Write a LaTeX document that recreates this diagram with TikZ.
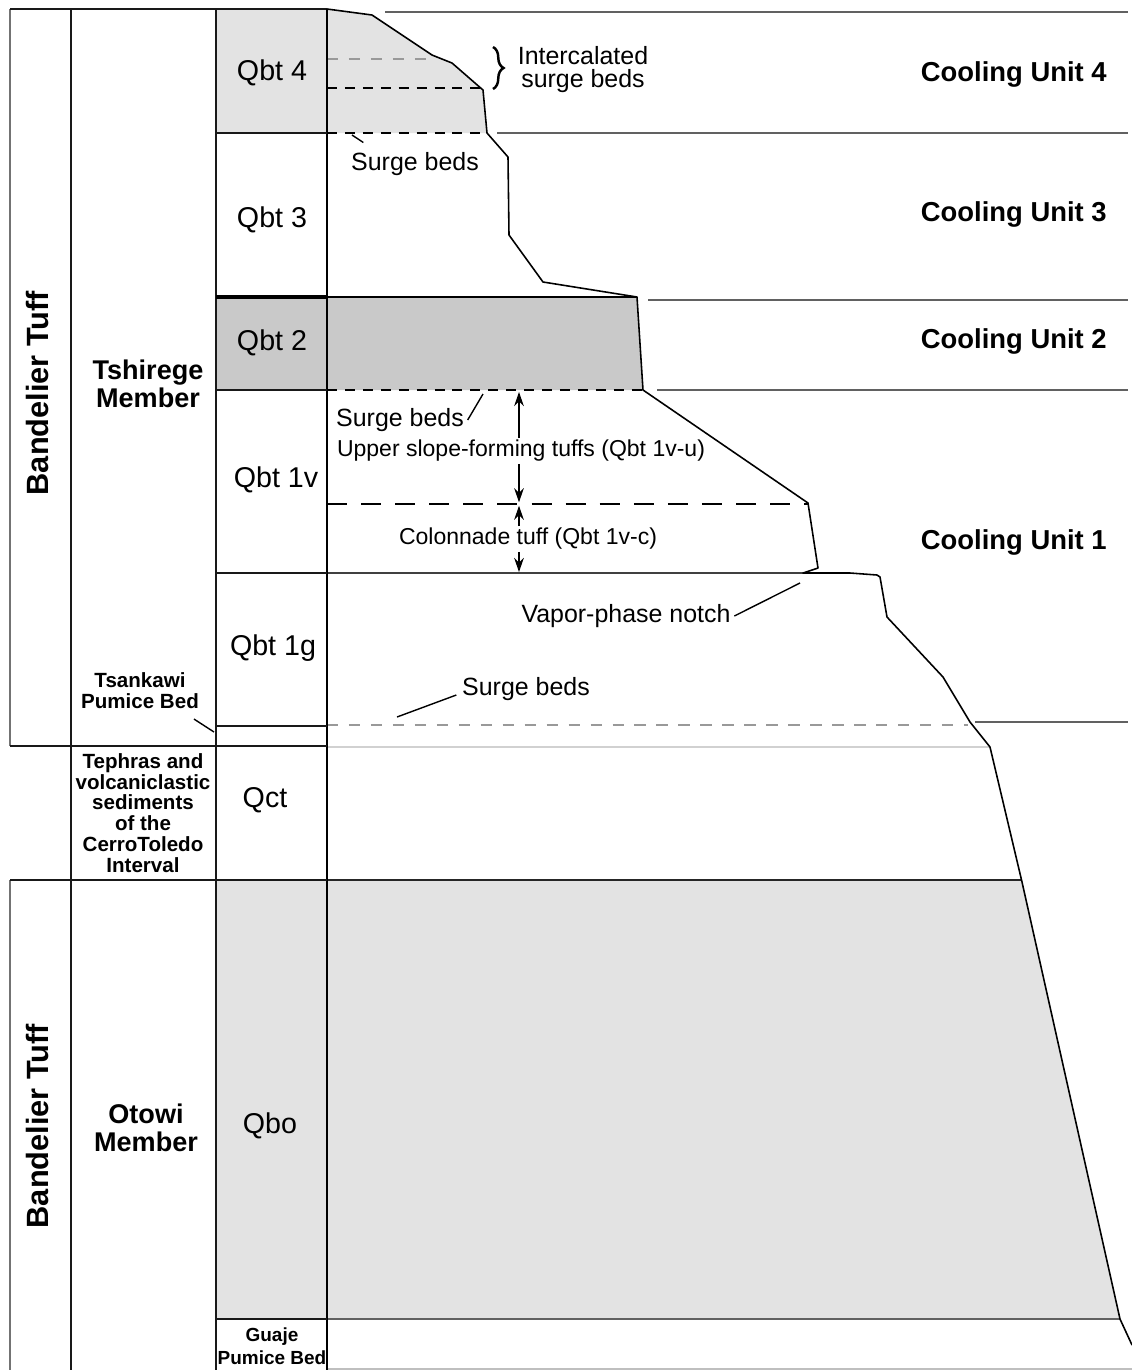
\documentclass[tikz,border=0pt]{standalone}
\usepackage{fontspec}
\setmainfont{Liberation Sans}
\usetikzlibrary{arrows.meta, calc, positioning, decorations.pathreplacing}

\begin{document}
\begin{tikzpicture}[x=0.02cm, y=-0.02cm]
\tikzstyle{unit}=[font=\fontsize{16.3}{18}\selectfont, inner sep=1pt]
\tikzstyle{cooling}=[font=\fontsize{15.6}{18}\selectfont\bfseries, anchor=east, inner sep=0pt]
\tikzstyle{member}=[font=\fontsize{15.4}{15.9}\selectfont\bfseries, align=center]
\tikzstyle{tuff}=[font=\fontsize{17.5}{20}\selectfont\bfseries, rotate=90]
\tikzstyle{note}=[font=\fontsize{14.2}{13.1}\selectfont, align=center, inner sep=2pt]
\tikzstyle{small}=[font=\fontsize{13.1}{15}\selectfont, inner sep=1pt]
\tikzstyle{bed}=[font=\fontsize{11.7}{11.8}\selectfont\bfseries, align=center, inner sep=1pt]
\tikzstyle{frame}=[line width=1.1pt, draw=black!90]
\tikzstyle{divider}=[line width=1.2pt, draw=black!62]
\tikzstyle{cliff}=[line width=0.9pt, line join=round]
\tikzstyle{leader}=[line width=0.8pt]
\tikzstyle{surge}=[line width=0.9pt, dash pattern=on 5.7pt off 4.5pt]
\tikzstyle{graysurge}=[line width=1.5pt, draw=black!40, dash pattern=on 6.5pt off 6pt]
\tikzstyle{thick arrow}=[line width=0.8pt, -{Stealth[length=8pt,width=5.5pt]}]

\useasboundingbox (0,0) rectangle (1132,1370);

% shaded units
\fill[black!11] (216,9) rectangle (327,133);
\fill[black!11] (327,9) -- (372,15) -- (432,55) -- (452,63) -- (483,90) -- (487,133) -- (327,133) -- cycle;
\fill[black!21] (216,297) rectangle (327,390);
\fill[black!21] (327,297) -- (637,297) -- (643,390) -- (327,390) -- cycle;
\fill[black!11] (216,880) rectangle (327,1319);
\fill[black!11] (327,880) -- (1022,880) -- (1120,1319) -- (327,1319) -- cycle;

% cooling unit boundaries
\draw[divider] (385,12) -- (1128,12);
\draw[divider] (497,133) -- (1128,133);
\draw[divider] (648,300) -- (1128,300);
\draw[divider] (657,390) -- (1128,390);
\draw[divider] (975,722) -- (1128,722);
\draw[divider] (327,1319) -- (1120,1319);
\draw[line width=1.2pt, black!18] (327,747) -- (990,747);
\draw[line width=1.2pt, black!25] (327,1369) -- (1132,1369);

% beds inside the units
\draw[graysurge] (327,59) -- (432,59);
\draw[surge] (327,88) -- (481,88);
\draw[surge] (327,133) -- (487,133);
\draw[line width=1.4pt] (327,297) -- (637,297);
\draw[surge] (327,390) -- (643,390);
\draw[line width=0.9pt, dash pattern=on 11.4pt off 8pt] (327,504) -- (808,504);
\draw[line width=1.1pt, black!75] (327,573) -- (803,573);
\draw[graysurge] (327,725) -- (968,725);
\draw[line width=1.1pt, black!85] (327,880) -- (1022,880);

% cliff profile
\draw[cliff] (327,9) -- (372,15) -- (432,55) -- (452,63) -- (483,90) -- (487,133)
  -- (508,157) -- (509,235) -- (543,282) -- (637,297) -- (643,390) -- (808,503)
  -- (818,568) -- (803,573) -- (850,573) -- (877,575) -- (880,577) -- (887,617)
  -- (943,677) -- (970,722) -- (990,747) -- (1022,882) -- (1120,1319) -- (1132,1345);

% columns
\draw[frame, black!55] (10,9) -- (10,746);
\draw[frame, black!55] (10,880) -- (10,1370);
\draw[frame] (10,9) -- (327,9);
\draw[frame] (71,9) -- (71,1370);
\draw[frame] (216,9) -- (216,1370);
\draw[line width=1.4pt] (327,9) -- (327,1370);
\draw[frame] (10,746) -- (327,746);
\draw[frame] (10,880) -- (327,880);
\draw[frame] (216,133) -- (327,133);
\draw[line width=2pt] (216,297) -- (327,297);
\draw[frame] (216,390) -- (327,390);
\draw[frame] (216,573) -- (327,573);
\draw[frame] (216,726) -- (327,726);
\draw[frame] (216,1319) -- (327,1319);

% unit names
\node[unit] (q4) at (272,73) {Qbt 4};
\node[unit] (q3) at (272,220) {Qbt 3};
\node[unit] (q2) at (272,343) {Qbt 2};
\node[unit] (q1v) at (276,480) {Qbt 1v};
\node[unit] (q1g) at (273,648) {Qbt 1g};
\node[unit] (qct) at (265,800) {Qct};
\node[unit] (qbo) at (270,1126) {Qbo};
\node[bed, font=\fontsize{10.8}{13}\selectfont\bfseries] (guaje) at (272,1346) {Guaje\\Pumice Bed};

\node[member] (tshirege) at (148,384) {Tshirege\\Member};
\node[member] (otowi) at (146,1128) {Otowi\\Member};
\node[tuff] (tuffup) at (38,393) {Bandelier Tuff};
\node[tuff] (tufflow) at (38,1126) {Bandelier Tuff};
\node[bed] (tsankawi) at (140,691) {Tsankawi\\Pumice Bed};
\node[bed] (cerro) at (143,813) {Tephras and\\volcaniclastic\\sediments\\of the\\CerroToledo\\Interval};

\node[cooling] (cu4) at (1107,74) {Cooling Unit 4};
\node[cooling] (cu3) at (1107,214) {Cooling Unit 3};
\node[cooling] (cu2) at (1107,341) {Cooling Unit 2};
\node[cooling] (cu1) at (1107,542) {Cooling Unit 1};

% notes
\node[note] (intercal) at (583,70) {Intercalated\\surge beds};
\node[note] (surgeA) at (415,164) {Surge beds};
\node[note] (surgeB) at (400,420) {Surge beds};
\node[small] (upper) at (521,451) {Upper slope-forming tuffs (Qbt 1v-u)};
\node[small] (colon) at (528,539) {Colonnade tuff (Qbt 1v-c)};
\node[note] (vapor) at (626,616) {Vapor-phase notch};
\node[note] (surgeC) at (526,689) {Surge beds};

\coordinate (sAtip) at (352,135);
\coordinate (sBtip) at (483,394);
\coordinate (notch) at (800,583);
\coordinate (sCtip) at (397,717);
\coordinate (tktip) at (214,732);
\coordinate (vtop) at (519,392);
\coordinate (vmid) at (519,504);
\coordinate (vbot) at (519,572);

\draw[decorate, decoration={brace, amplitude=6pt}, line width=1.4pt] (493,47) -- (493,89);
\draw[leader] (sAtip) -- ($(surgeA.north west)+(16,-6)$);
\draw[leader] (surgeB.east) -- (sBtip);
\draw[leader] (vapor.east) -- (notch);
\draw[leader] ($(surgeC.west)+(-2,6)$) -- (sCtip);
\draw[leader] ($(tsankawi.south east)+(-7,8)$) -- (tktip);

\draw[thick arrow] (upper.north -| vtop) -- (vtop);
\draw[thick arrow] (upper.south -| vmid) -- ([yshift=1pt]vmid);
\draw[thick arrow] (colon.north -| vmid) -- ([yshift=-1pt]vmid);
\draw[thick arrow] (colon.south -| vbot) -- (vbot);
\end{tikzpicture}
\end{document}
